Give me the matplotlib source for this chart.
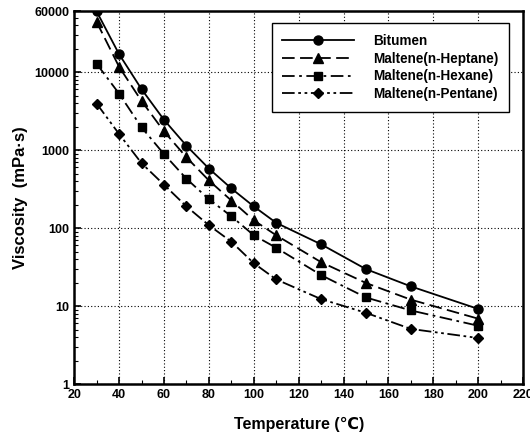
import numpy as np
import matplotlib
matplotlib.use("Agg")
import matplotlib.pyplot as plt
from matplotlib.ticker import FixedLocator, LogLocator, NullFormatter, MultipleLocator

plt.rcParams['font.family'] = ['Liberation Sans', 'DejaVu Sans']
plt.rcParams['font.weight'] = 'bold'

temps = [30, 40, 50, 60, 70, 80, 90, 100, 110, 130, 150, 170, 200]
bitumen = [60000, 17000, 6050, 2450, 1140, 581, 323, 190, 117, 62, 29.8, 17.9, 9.2]
heptane = [44000, 11700, 4270, 1740, 810, 409, 226, 126, 81, 36.6, 19.8, 12.1, 6.9]
hexane = [12800, 5300, 1960, 890, 430, 235, 142, 81, 56, 25, 12.9, 8.8, 5.6]
pentane = [3950, 1610, 680, 360, 190, 109, 67, 35.5, 22, 12.3, 8.2, 5.1, 3.9]
names = ['Bitumen', 'Maltene(n-Heptane)', 'Maltene(n-Hexane)', 'Maltene(n-Pentane)']

y_ticks = [1, 10, 100, 1000, 10000, 60000]

fig = plt.figure(figsize=(5.3, 4.41), dpi=100)
ax = fig.add_axes([0.14, 0.129, 0.847, 0.845])

ax.plot(temps, bitumen, color='black', lw=1.3, ls='-', marker='o', ms=6.5, label=names[0])
ax.plot(temps, heptane, color='black', lw=1.3, ls=(0, (7, 3)), marker='^', ms=7, label=names[1])
ax.plot(temps, hexane, color='black', lw=1.3, ls=(0, (7, 2.5, 1.5, 2.5)), marker='s', ms=6, label=names[2])
ax.plot(temps, pentane, color='black', lw=1.3, ls=(0, (7, 2, 1.5, 2, 1.5, 2)), marker='D', ms=5.5, label=names[3])

ax.set_yscale('log')
ax.set_xlim(20, 220)
ax.set_ylim(1, 60000)
ax.xaxis.set_major_locator(MultipleLocator(20))
ax.xaxis.set_minor_locator(MultipleLocator(10))
ax.yaxis.set_major_locator(FixedLocator(y_ticks))
ax.set_yticklabels([str(t) for t in y_ticks])
ax.yaxis.set_minor_locator(LogLocator(base=10, subs=np.arange(2, 10)))
ax.yaxis.set_minor_formatter(NullFormatter())

ax.tick_params(which='both', direction='in', top=False, right=False, labelsize=9)
ax.tick_params(which='major', length=5, width=1.2)
ax.tick_params(which='minor', length=3, width=0.8)
for s in ax.spines.values():
    s.set_linewidth(1.8)

ax.grid(True, which='major', color='black', ls=(0, (1, 2)), lw=0.8)

ax.set_xlabel('Temperature (℃)', fontsize=11.5, fontweight='bold')
ax.set_ylabel('Viscosity  (mPa·s)', fontsize=12, fontweight='bold')
ax.xaxis.set_label_coords(0.5, -0.088)
ax.yaxis.set_label_coords(-0.103, 0.5)

leg = ax.legend(loc='upper right', bbox_to_anchor=(0.969, 0.969), borderaxespad=0,
                fontsize=9.75, frameon=True, fancybox=False, edgecolor='black',
                framealpha=1, handlelength=5.3, borderpad=0.8, labelspacing=0.28,
                handletextpad=1.4)
leg.get_frame().set_linewidth(1.0)

fig.savefig('out.png', dpi=100)
